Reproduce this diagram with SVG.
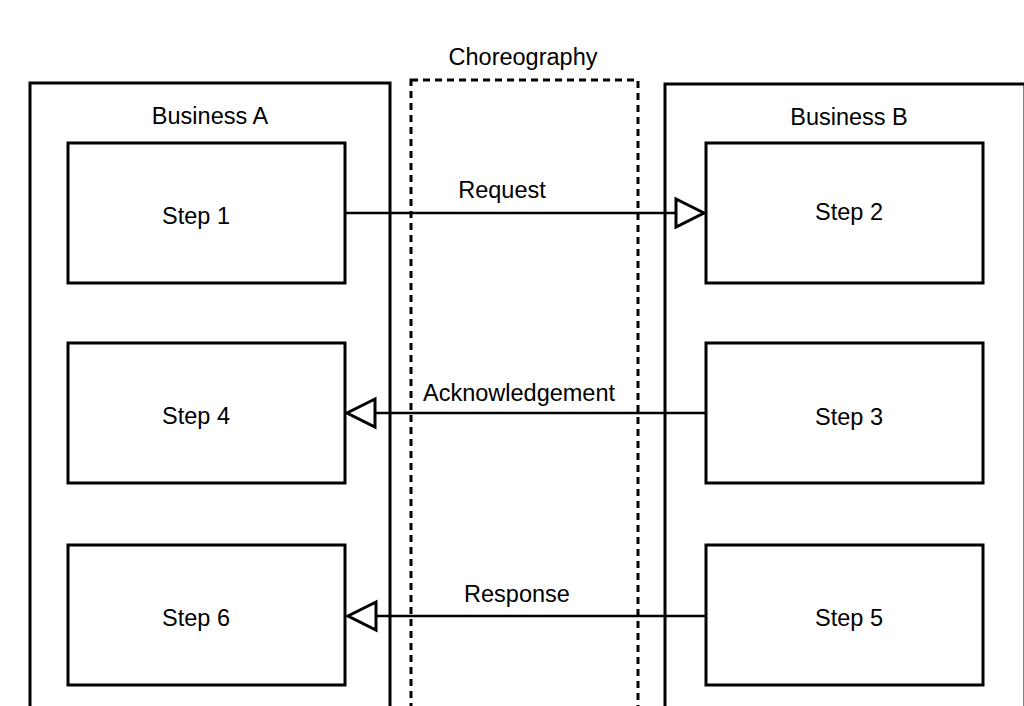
<svg xmlns="http://www.w3.org/2000/svg" width="1024" height="706" viewBox="0 0 1024 706">
<style>
.box{fill:#fff;stroke:#000;stroke-width:3}
.lane{fill:none;stroke:#000;stroke-width:3}
.dash{fill:none;stroke:#000;stroke-width:3;stroke-dasharray:7 5}
.t{font-family:"Liberation Sans",Arial,sans-serif;font-size:23.5px;fill:#000;text-anchor:middle}
.c{fill:none;stroke:#000;stroke-width:2.5}
.ah{fill:#fff;stroke:#000;stroke-width:3}
</style>
<rect width="1024" height="706" fill="#fff"/>
<g id="business-a">
<rect class="lane" x="30" y="83" width="360" height="640"/>
<text class="t" x="210" y="124">Business A</text>
</g>
<g id="choreography">
<rect class="dash" x="411" y="80" width="227" height="640"/>
<text class="t" x="523" y="65">Choreography</text>
</g>
<g id="business-b">
<rect class="lane" x="665" y="84" width="360" height="640"/>
<text class="t" x="849" y="125">Business B</text>
</g>
<g id="step1"><rect class="box" x="68" y="143" width="277" height="140"/><text class="t" x="196" y="224">Step 1</text></g>
<g id="step2"><rect class="box" x="706" y="143" width="277" height="140"/><text class="t" x="849" y="220">Step 2</text></g>
<g id="step4"><rect class="box" x="68" y="343" width="277" height="140"/><text class="t" x="196" y="424">Step 4</text></g>
<g id="step3"><rect class="box" x="706" y="343" width="277" height="140"/><text class="t" x="849" y="425">Step 3</text></g>
<g id="step6"><rect class="box" x="68" y="545" width="277" height="140"/><text class="t" x="196" y="626">Step 6</text></g>
<g id="step5"><rect class="box" x="706" y="545" width="277" height="140"/><text class="t" x="849" y="626">Step 5</text></g>
<g id="connectors">
<line class="c" x1="345" y1="213" x2="676" y2="213"/>
<polygon class="ah" points="676,199 704,213 676,227"/>
<text class="t" x="502" y="198">Request</text>
<line class="c" x1="706" y1="413" x2="375" y2="413"/>
<polygon class="ah" points="375,399 347,413 375,427"/>
<text class="t" x="519" y="401">Acknowledgement</text>
<line class="c" x1="706" y1="616" x2="376" y2="616"/>
<polygon class="ah" points="376,602 348,616 376,630"/>
<text class="t" x="517" y="602">Response</text>
</g>
</svg>
